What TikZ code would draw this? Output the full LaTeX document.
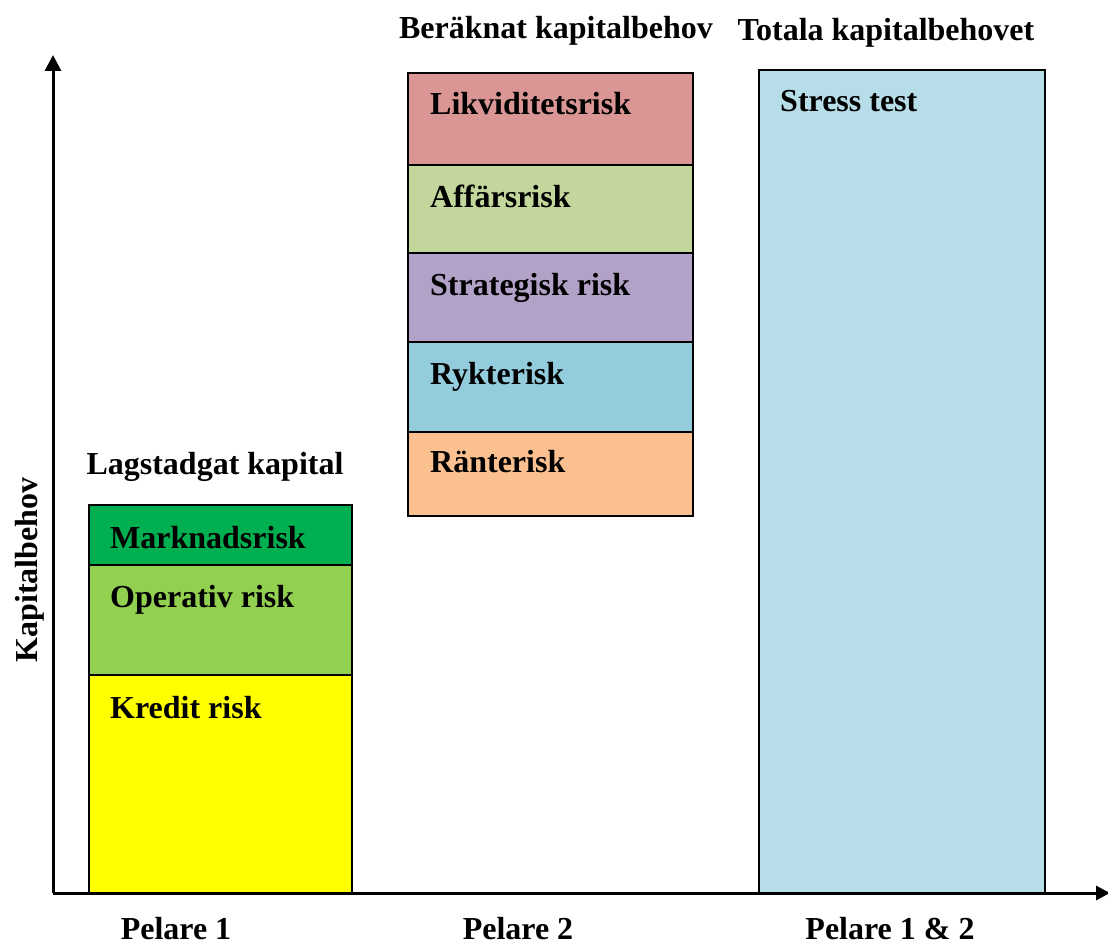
\documentclass[tikz,border=0pt]{standalone}
\usepackage{fontspec}
\setmainfont{Liberation Serif}
\usetikzlibrary{arrows.meta}
\definecolor{marknad}{RGB}{0,176,80}
\definecolor{operativ}{RGB}{146,208,80}
\definecolor{kredit}{RGB}{255,255,0}
\definecolor{likviditet}{RGB}{217,150,148}
\definecolor{affar}{RGB}{195,214,155}
\definecolor{strategi}{RGB}{178,162,199}
\definecolor{rykte}{RGB}{147,205,221}
\definecolor{ranta}{RGB}{250,192,144}
\definecolor{stress}{RGB}{183,222,232}

\begin{document}
\begin{tikzpicture}[x=1pt, y=-1pt,
  bigfont/.style={font=\fontsize{32}{38}\selectfont\bfseries},
  risktext/.style={bigfont, anchor=base west, inner sep=0pt},
  headtext/.style={bigfont, anchor=base, inner sep=0pt},
  riskbox/.style={draw=black, line width=2pt}]
  \useasboundingbox (0,0) rectangle (1108,947);

  % Axes
  \draw[line width=3pt, -{Triangle[length=16pt,width=16pt]}] (53,893) -- (53,55);
  \draw[line width=3pt, -{Triangle[length=14pt,width=14pt]}] (53,893) -- (1110,893);
  \node[bigfont, rotate=90, anchor=base, inner sep=0pt] (ylab) at (37,570) {Kapitalbehov};

  % Pelare 1
  \fill[kredit] (89,675) rectangle (352,893);
  \fill[operativ] (89,565) rectangle (352,675);
  \fill[marknad] (89,505) rectangle (352,565);
  \draw[riskbox] (89,505) rectangle (352,893);
  \draw[riskbox] (89,565) -- (352,565);
  \draw[riskbox] (89,675) -- (352,675);
  \node[risktext] (mark) at (110,548) {Marknadsrisk};
  \node[risktext] (oper) at (110,607) {Operativ risk};
  \node[risktext] (kred) at (110,718) {Kredit risk};
  \node[headtext] (lag) at (215,474) {Lagstadgat kapital};

  % Pelare 2
  \fill[likviditet] (408,73) rectangle (693,165);
  \fill[affar] (408,165) rectangle (693,253);
  \fill[strategi] (408,253) rectangle (693,342);
  \fill[rykte] (408,342) rectangle (693,432);
  \fill[ranta] (408,432) rectangle (693,516);
  \draw[riskbox] (408,73) rectangle (693,516);
  \foreach \y in {165,253,342,432} {
    \draw[riskbox] (408,\y) -- (693,\y);
  }
  \node[risktext] (likv) at (430,115) {Likviditetsrisk};
  \node[risktext] (aff) at (430,207) {Affärsrisk};
  \node[risktext] (strat) at (430,295) {Strategisk risk};
  \node[risktext] (rykt) at (430,384) {Rykterisk};
  \node[risktext] (rant) at (430,472) {Ränterisk};
  \node[headtext] (ber) at (556,39) {Beräknat kapitalbehov};

  % Pelare 1 & 2
  \fill[stress] (759,70) rectangle (1045,893);
  \draw[riskbox] (759,70) rectangle (1045,893);
  \node[risktext] (stre) at (780,112) {Stress test};
  \node[headtext] (tot) at (886,41) {Totala kapitalbehovet};

  % Pelare labels
  \node[headtext] (p1) at (176,939) {Pelare 1};
  \node[headtext] (p2) at (518,939) {Pelare 2};
  \node[headtext] (p12) at (890,939) {Pelare 1 \& 2};
\end{tikzpicture}
\end{document}
